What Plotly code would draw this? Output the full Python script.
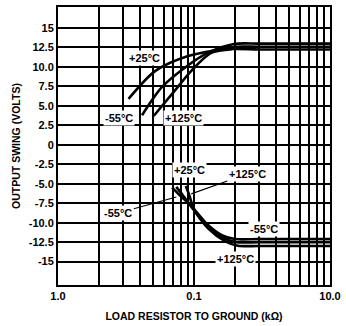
import plotly.graph_objects as go

# Output swing vs. load resistance, positive and negative rails
temps = ["-55°C", "+25°C", "+125°C"]

pos_r = {
    "-55°C": [0.415, 0.58, 0.856, 1.26, 1.97, 3.0, 10.0],
    "+25°C": [0.33, 0.52, 0.905, 1.49, 2.05, 3.0, 10.0],
    "+125°C": [0.505, 0.725, 0.956, 1.335, 1.92, 3.0, 10.0],
}
pos_v = {
    "-55°C": [3.8, 7.4, 9.9, 11.8, 12.95, 13.0, 13.0],
    "+25°C": [5.9, 9.5, 11.4, 12.2, 12.6, 12.6, 12.6],
    "+125°C": [3.7, 7.0, 9.5, 11.8, 12.3, 12.25, 12.25],
}
neg_r = {
    "-55°C": [0.69, 0.8, 0.95, 1.25, 1.6, 2.0, 3.0, 10.0],
    "+25°C": [0.74, 0.83, 0.96, 1.26, 1.65, 2.05, 3.0, 10.0],
    "+125°C": [0.87, 0.92, 1.0, 1.28, 1.7, 2.1, 3.0, 10.0],
}
neg_v = {
    "-55°C": [-5.5, -6.6, -7.8, -10.2, -11.6, -12.1, -12.1, -12.1],
    "+25°C": [-5.4, -6.5, -8.0, -10.5, -12.0, -12.5, -12.5, -12.5],
    "+125°C": [-5.3, -6.4, -8.3, -10.8, -12.4, -12.95, -13.0, -13.0],
}

x_tickvals = [0.1, 0.2, 0.3, 0.4, 0.5, 0.6, 0.7, 0.8, 0.9,
              1, 2, 3, 4, 5, 6, 7, 8, 9, 10]
x_ticktext = ["1.0"] + [""] * 8 + ["0.1"] + [""] * 8 + ["10.0"]
y_tickvals = [-15, -12.5, -10, -7.5, -5, -2.5, 0, 2.5, 5, 7.5, 10, 12.5, 15]
y_ticktext = ["-15", "-12.5", "-10.0", "-7.5", "-5.0", "-2.5", "0",
              "2.5", "5.0", "7.5", "10.0", "12.5", "15"]

FONT = "Liberation Sans, Arial, sans-serif"

fig = go.Figure()
for t in temps:
    fig.add_trace(go.Scatter(x=pos_r[t], y=pos_v[t], mode="lines",
                             line=dict(color="black", width=2.6, shape="spline", smoothing=0.8),
                             showlegend=False, hoverinfo="skip"))
    fig.add_trace(go.Scatter(x=neg_r[t], y=neg_v[t], mode="lines",
                             line=dict(color="black", width=2.6, shape="spline", smoothing=0.8),
                             showlegend=False, hoverinfo="skip"))

lab_font = dict(family=FONT, size=11, color="black", weight="bold")

# plain curve labels (x in log10 units)
plain_labels = [
    ("+25°C", -0.362, 11.1),
    ("-55°C", -0.551, 3.5),
    ("+125°C", -0.08, 3.4),
    ("+25°C", -0.031, -3.25),
    ("-55°C", 0.512, -10.85),
    ("+125°C", 0.307, -14.65),
]
for txt, lx, ly in plain_labels:
    fig.add_annotation(x=lx, y=ly, text=txt, showarrow=False, font=lab_font,
                       bgcolor="white", borderpad=1)

# labels with leader lines
fig.add_annotation(x=-0.13, y=-6.7, text="-55°C", showarrow=True, arrowhead=0,
                   arrowwidth=1.2, arrowcolor="black", ax=-58, ay=16,
                   font=lab_font, bgcolor="white", borderpad=1)
fig.add_annotation(x=-0.02, y=-6.3, text="+125°C", showarrow=True, arrowhead=0,
                   arrowwidth=1.2, arrowcolor="black", ax=56, ay=-20,
                   font=lab_font, bgcolor="white", borderpad=1)

fig.update_layout(
    width=346, height=326,
    margin=dict(l=58, r=12, t=5, b=39),
    plot_bgcolor="white", paper_bgcolor="white",
    font=dict(family=FONT, size=11, color="black"),
)
fig.update_xaxes(
    type="log", range=[-1, 1],
    tickvals=x_tickvals, ticktext=x_ticktext,
    tickfont=dict(family=FONT, size=11, color="black", weight="bold"),
    showgrid=True, gridcolor="black", gridwidth=1.7,
    showline=True, linecolor="black", linewidth=2, mirror=True,
    ticks="", zeroline=False,
    title=dict(text="LOAD RESISTOR TO GROUND (kΩ)",
               font=dict(family=FONT, size=10.5, color="black", weight="bold"),
               standoff=11),
)
fig.update_yaxes(
    range=[-18, 17.7],
    tickvals=y_tickvals, ticktext=y_ticktext,
    tickfont=dict(family=FONT, size=11, color="black", weight="bold"),
    showgrid=True, gridcolor="black", gridwidth=1.7,
    showline=True, linecolor="black", linewidth=2, mirror=True,
    ticks="", zeroline=False,
    title=dict(text="OUTPUT SWING (VOLTS)",
               font=dict(family=FONT, size=10.5, color="black", weight="bold"),
               standoff=6),
)

fig.write_html("out.html")
